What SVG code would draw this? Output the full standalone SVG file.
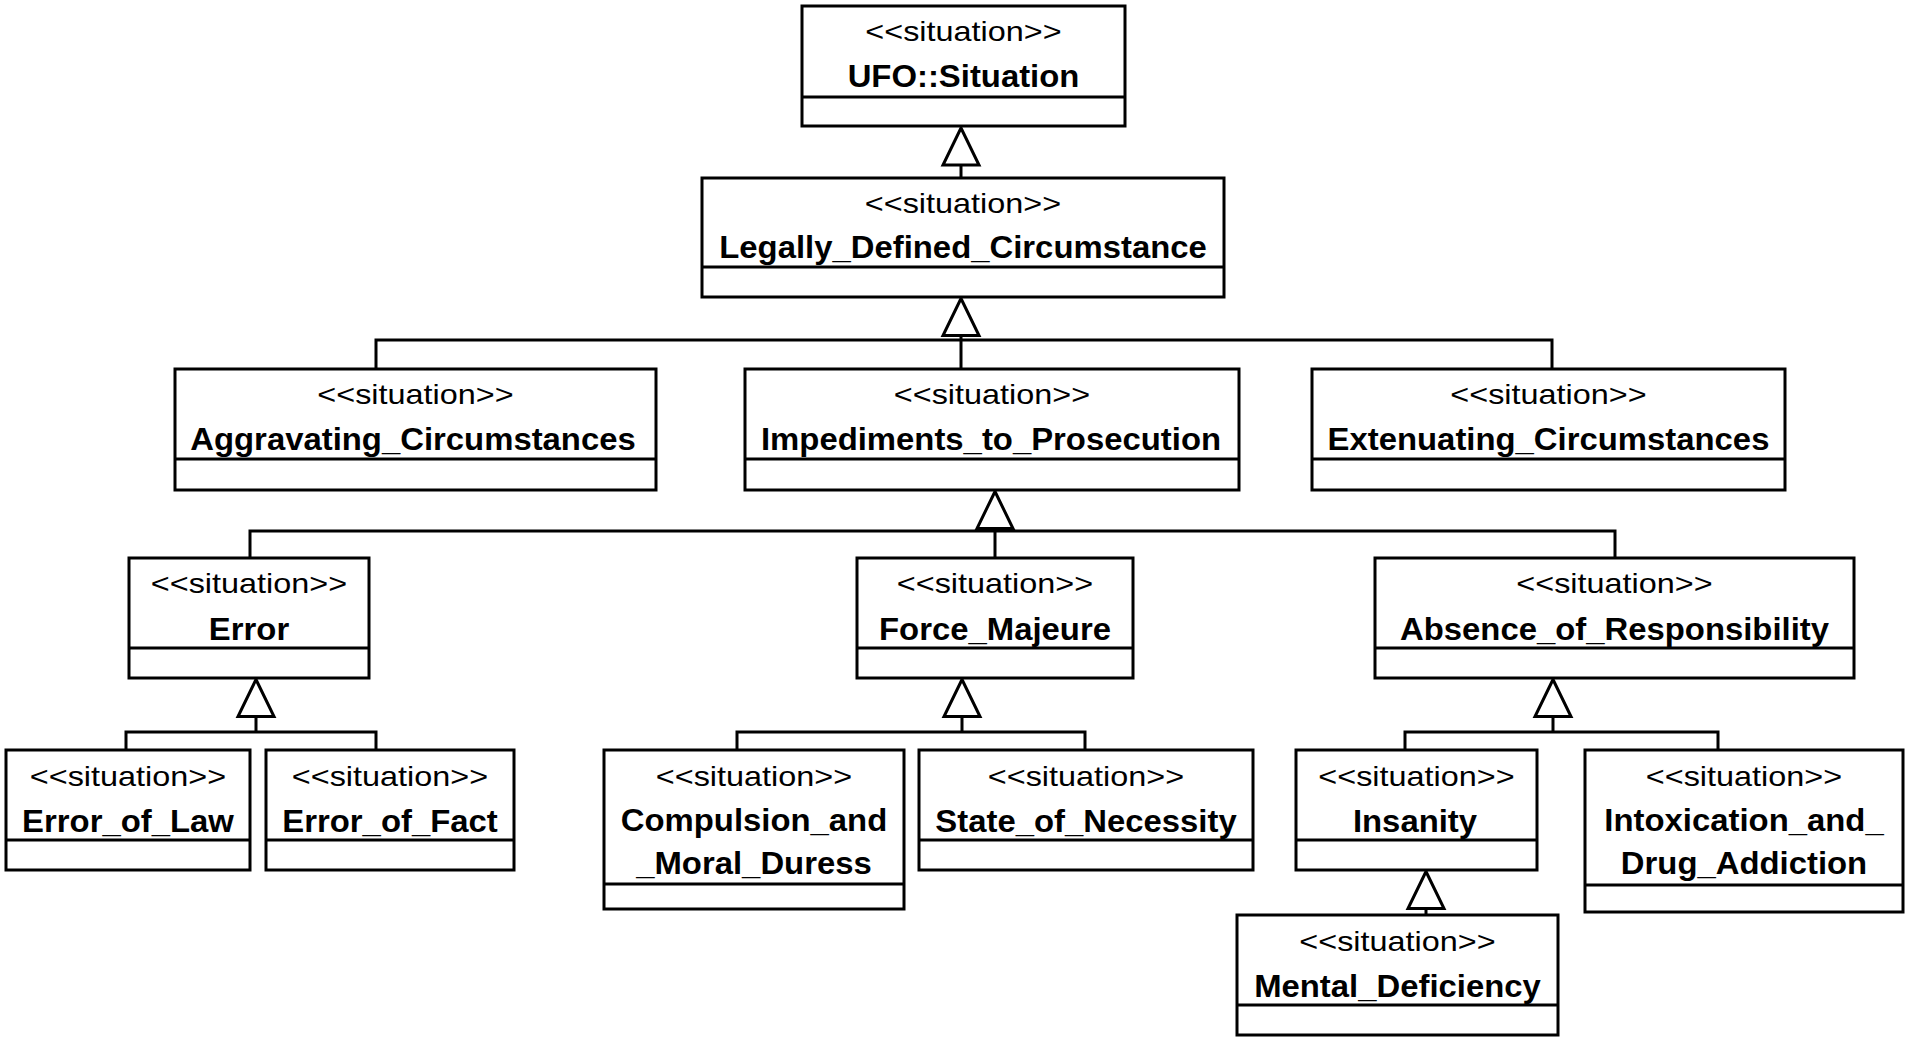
<svg xmlns="http://www.w3.org/2000/svg" xmlns:xlink="http://www.w3.org/1999/xlink" width="1914" height="1047" viewBox="0 0 1914 1047">
<style>
  .box { fill: #ffffff; stroke: #000000; stroke-width: 3; }
  .div { stroke: #000000; stroke-width: 3; }
  .st { font-family: "Liberation Sans", Arial, sans-serif; font-size: 27px; fill: #000000; text-anchor: middle; }
  .nm { font-family: "Liberation Sans", Arial, sans-serif; font-size: 31px; font-weight: bold; fill: #000000; text-anchor: middle; }
  .ln { fill: none; stroke: #000000; stroke-width: 3; }
  .tri { fill: #ffffff; stroke: #000000; stroke-width: 3; stroke-linejoin: miter; }
</style>
<defs>
  <path id="gen" class="tri" d="M0,0 L18,37 L-18,37 Z"/>
</defs>
<rect x="0" y="0" width="1914" height="1047" fill="#ffffff"/>

<g id="connectors">
  <!-- Legally -> UFO -->
  <path class="ln" d="M961,166 V178"/>
  <use xlink:href="#gen" href="#gen" x="961" y="128"/>
  <!-- Level 2 -> Legally -->
  <path class="ln" d="M376,369 V340 H1552 V369 M961,337 V369"/>
  <use xlink:href="#gen" href="#gen" x="961" y="298.5"/>
  <!-- Level 3 -> Impediments -->
  <path class="ln" d="M250,558 V531 H1615 V558 M995,528 V558"/>
  <use xlink:href="#gen" href="#gen" x="995" y="491.5"/>
  <!-- Error children -->
  <path class="ln" d="M126,750 V732 H376 V750 M256,716 V732"/>
  <use xlink:href="#gen" href="#gen" x="256" y="679.5"/>
  <!-- Force_Majeure children -->
  <path class="ln" d="M737,750 V732 H1085 V750 M962,716 V732"/>
  <use xlink:href="#gen" href="#gen" x="962" y="679.5"/>
  <!-- Absence children -->
  <path class="ln" d="M1405,750 V732 H1718 V750 M1553,716 V732"/>
  <use xlink:href="#gen" href="#gen" x="1553" y="679.5"/>
  <!-- Mental -> Insanity -->
  <path class="ln" d="M1426,907 V915"/>
  <use xlink:href="#gen" href="#gen" x="1426" y="871.5"/>
</g>

<g id="UFO_Situation">
  <rect class="box" x="802" y="6" width="323" height="120"/>
  <line class="div" x1="802" y1="97" x2="1125" y2="97"/>
  <text class="st" transform="translate(963.5,41) scale(1.2,1)">&lt;&lt;situation&gt;&gt;</text>
  <text class="nm" transform="translate(963.5,86.5) scale(1.06,1)">UFO::Situation</text>
</g>

<g id="Legally_Defined_Circumstance">
  <rect class="box" x="702" y="178" width="522" height="119"/>
  <line class="div" x1="702" y1="267" x2="1224" y2="267"/>
  <text class="st" transform="translate(963,213) scale(1.2,1)">&lt;&lt;situation&gt;&gt;</text>
  <text class="nm" transform="translate(963,257.5) scale(1.06,1)">Legally_Defined_Circumstance</text>
</g>

<g id="Aggravating_Circumstances">
  <rect class="box" x="175" y="369" width="481" height="121"/>
  <line class="div" x1="175" y1="459" x2="656" y2="459"/>
  <text class="st" transform="translate(415.5,404) scale(1.2,1)">&lt;&lt;situation&gt;&gt;</text>
  <text class="nm" transform="translate(413,449.5) scale(1.06,1)">Aggravating_Circumstances</text>
</g>

<g id="Impediments_to_Prosecution">
  <rect class="box" x="745" y="369" width="494" height="121"/>
  <line class="div" x1="745" y1="459" x2="1239" y2="459"/>
  <text class="st" transform="translate(992,404) scale(1.2,1)">&lt;&lt;situation&gt;&gt;</text>
  <text class="nm" transform="translate(991,449.5) scale(1.06,1)">Impediments_to_Prosecution</text>
</g>

<g id="Extenuating_Circumstances">
  <rect class="box" x="1312" y="369" width="473" height="121"/>
  <line class="div" x1="1312" y1="459" x2="1785" y2="459"/>
  <text class="st" transform="translate(1548.5,404) scale(1.2,1)">&lt;&lt;situation&gt;&gt;</text>
  <text class="nm" transform="translate(1548.5,449.5) scale(1.06,1)">Extenuating_Circumstances</text>
</g>

<g id="Error">
  <rect class="box" x="129" y="558" width="240" height="120"/>
  <line class="div" x1="129" y1="648" x2="369" y2="648"/>
  <text class="st" transform="translate(249,593) scale(1.2,1)">&lt;&lt;situation&gt;&gt;</text>
  <text class="nm" transform="translate(249,639.5) scale(1.06,1)">Error</text>
</g>

<g id="Force_Majeure">
  <rect class="box" x="857" y="558" width="276" height="120"/>
  <line class="div" x1="857" y1="648" x2="1133" y2="648"/>
  <text class="st" transform="translate(995,593) scale(1.2,1)">&lt;&lt;situation&gt;&gt;</text>
  <text class="nm" transform="translate(995,639.5) scale(1.06,1)">Force_Majeure</text>
</g>

<g id="Absence_of_Responsibility">
  <rect class="box" x="1375" y="558" width="479" height="120"/>
  <line class="div" x1="1375" y1="648" x2="1854" y2="648"/>
  <text class="st" transform="translate(1614.5,593) scale(1.2,1)">&lt;&lt;situation&gt;&gt;</text>
  <text class="nm" transform="translate(1614.5,639.5) scale(1.06,1)">Absence_of_Responsibility</text>
</g>

<g id="Error_of_Law">
  <rect class="box" x="6" y="750" width="244" height="120"/>
  <line class="div" x1="6" y1="840" x2="250" y2="840"/>
  <text class="st" transform="translate(128,786) scale(1.2,1)">&lt;&lt;situation&gt;&gt;</text>
  <text class="nm" transform="translate(128,831.5) scale(1.06,1)">Error_of_Law</text>
</g>

<g id="Error_of_Fact">
  <rect class="box" x="266" y="750" width="248" height="120"/>
  <line class="div" x1="266" y1="840" x2="514" y2="840"/>
  <text class="st" transform="translate(390,786) scale(1.2,1)">&lt;&lt;situation&gt;&gt;</text>
  <text class="nm" transform="translate(390,831.5) scale(1.06,1)">Error_of_Fact</text>
</g>

<g id="Compulsion_and_Moral_Duress">
  <rect class="box" x="604" y="750" width="300" height="159"/>
  <line class="div" x1="604" y1="884" x2="904" y2="884"/>
  <text class="st" transform="translate(754,786) scale(1.2,1)">&lt;&lt;situation&gt;&gt;</text>
  <text class="nm" transform="translate(754,830.5) scale(1.06,1)">Compulsion_and</text>
  <text class="nm" transform="translate(754,873.5) scale(1.06,1)">_Moral_Duress</text>
</g>

<g id="State_of_Necessity">
  <rect class="box" x="919" y="750" width="334" height="120"/>
  <line class="div" x1="919" y1="840" x2="1253" y2="840"/>
  <text class="st" transform="translate(1086,786) scale(1.2,1)">&lt;&lt;situation&gt;&gt;</text>
  <text class="nm" transform="translate(1086,831.5) scale(1.06,1)">State_of_Necessity</text>
</g>

<g id="Insanity">
  <rect class="box" x="1296" y="750" width="241" height="120"/>
  <line class="div" x1="1296" y1="840" x2="1537" y2="840"/>
  <text class="st" transform="translate(1416.5,786) scale(1.2,1)">&lt;&lt;situation&gt;&gt;</text>
  <text class="nm" transform="translate(1415,831.5) scale(1.06,1)">Insanity</text>
</g>

<g id="Intoxication_and_Drug_Addiction">
  <rect class="box" x="1585" y="750" width="318" height="162"/>
  <line class="div" x1="1585" y1="885" x2="1903" y2="885"/>
  <text class="st" transform="translate(1744,786) scale(1.2,1)">&lt;&lt;situation&gt;&gt;</text>
  <text class="nm" transform="translate(1744,830.5) scale(1.06,1)">Intoxication_and_</text>
  <text class="nm" transform="translate(1744,873.5) scale(1.06,1)">Drug_Addiction</text>
</g>

<g id="Mental_Deficiency">
  <rect class="box" x="1237" y="915" width="321" height="120"/>
  <line class="div" x1="1237" y1="1005" x2="1558" y2="1005"/>
  <text class="st" transform="translate(1397.5,951) scale(1.2,1)">&lt;&lt;situation&gt;&gt;</text>
  <text class="nm" transform="translate(1397.5,996.5) scale(1.06,1)">Mental_Deficiency</text>
</g>
</svg>
